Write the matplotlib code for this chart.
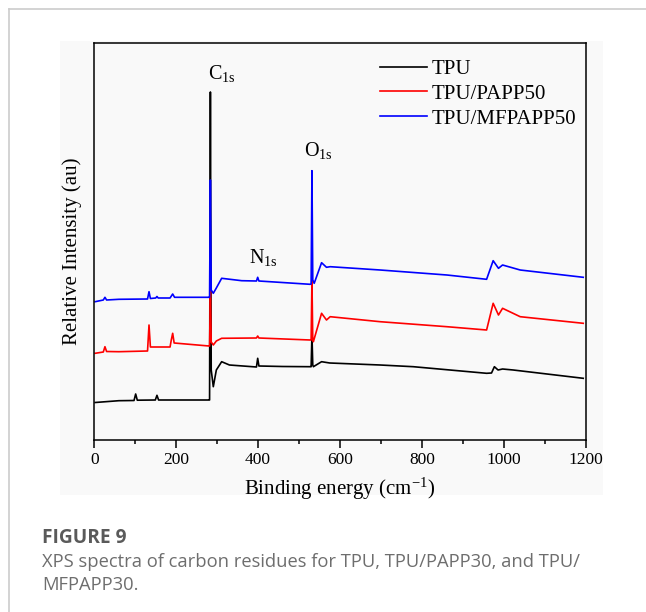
import matplotlib
matplotlib.use("Agg")
import matplotlib.pyplot as plt
from matplotlib.patches import Rectangle
from matplotlib.lines import Line2D
from matplotlib.ticker import MultipleLocator

plt.rcParams['font.family'] = ['Liberation Serif', 'DejaVu Serif']
plt.rcParams['mathtext.default'] = 'regular'

# XPS survey spectra (binding energy, relative intensity in a.u., stacked)
tpu_x = [2, 60, 97, 101, 105, 149, 153, 157, 280, 281.5, 283.5, 285.5, 290.6, 298, 311, 330,
         396, 399, 402, 460, 527, 529.5, 531.5, 533.5, 535, 555, 575, 698, 779, 958, 970, 977,
         986, 997, 1023, 1194]
tpu_y = [37.5, 39.3, 39.5, 46, 39.8, 40, 44.7, 40, 40, 40, 348, 70, 53.3, 70, 78.3, 75,
         73, 81.7, 74, 73.5, 73.3, 73.3, 105, 75, 73.3, 78.3, 77, 75, 73.3, 66.7, 67, 73.3,
         70, 71, 70, 61.7]

papp_x = [2, 22, 26, 30, 60, 130, 133.6, 137, 185, 188, 191.4, 195, 280, 281.5, 283.5, 285.5,
          290.6, 298, 311, 396, 399, 402, 527, 529.5, 531.5, 533.5, 535, 555, 567, 576, 698,
          861, 958, 974, 987, 997, 1040, 1194]
papp_y = [86.7, 88, 93.3, 88.5, 88.3, 89, 115, 93, 93, 100, 106.7, 97, 94, 94, 150, 98,
          95, 99, 101.7, 102, 104, 102, 100, 100, 160, 100, 98.3, 126.7, 120, 123.3, 118.3,
          113.3, 110, 136.7, 125, 131.7, 123.3, 116.7]

mf_x = [2, 22, 26, 30, 60, 130, 133.6, 137, 150, 153, 156, 185, 191.4, 196, 280, 281.5, 283.5,
        285.5, 290.6, 298, 311, 360, 396, 399, 402, 527, 529.5, 531.5, 533.5, 537, 555, 567,
        576, 698, 861, 958, 974, 987, 997, 1040, 1194]
mf_y = [138.3, 140, 142.7, 140, 140.7, 141, 148.3, 141.5, 142, 143.5, 142, 142, 146, 142.7,
        142.7, 142.7, 260, 150, 146.7, 152, 161.7, 159.3, 159, 162.7, 159, 155.7, 156, 269.3,
        160, 156.7, 177.3, 172.7, 173.3, 170, 165, 160.7, 179.3, 171.7, 175, 170, 162.7]

labels = ["TPU", "TPU/PAPP50", "TPU/MFPAPP50"]
colors = ["black", "red", "blue"]

# peak labels: text, x, y
peaks = [("C", 311, 366), ("N", 413, 182), ("O", 546, 289)]

fig = plt.figure(figsize=(6.46, 6.12), dpi=100, facecolor="white")

# light panel behind the chart and the page frame lines
panel = Rectangle((60 / 646, 1 - 495 / 612), 543 / 646, 454 / 612,
                  transform=fig.transFigure, facecolor="#f9f9f9", edgecolor="none",
                  zorder=-10)
fig.add_artist(panel)
fig.add_artist(Line2D([9 / 646, 1], [1 - 9 / 612, 1 - 9 / 612], transform=fig.transFigure,
                      color="#cccccc", lw=1.2))
fig.add_artist(Line2D([9 / 646, 9 / 646], [0, 1 - 9 / 612], transform=fig.transFigure,
                      color="#cccccc", lw=1.2))

ax = fig.add_axes([94.3 / 646, 1 - 440 / 612, 491.4 / 646, 397.3 / 612])
ax.set_facecolor("#f9f9f9")

for xs, ys, c, lab in zip([tpu_x, papp_x, mf_x], [tpu_y, papp_y, mf_y], colors, labels):
    ax.plot(xs, ys, color=c, lw=1.2, label=lab)

for el, px, py in peaks:
    ax.text(px, py, el + r"$_{1s}$", fontsize=14.5, ha="center", va="center")

ax.set_xlim(0, 1200)
ax.set_ylim(0, 397.3)
ax.xaxis.set_major_locator(MultipleLocator(200))
ax.xaxis.set_minor_locator(MultipleLocator(100))
ax.tick_params(axis="x", which="major", direction="out", length=6, width=1.1,
               labelsize=12.5, pad=3)
ax.tick_params(axis="x", which="minor", direction="out", length=3, width=1.1)
ax.set_yticks([])
for s in ax.spines.values():
    s.set_linewidth(1.1)

ax.set_xlabel("Binding energy (cm$^{-1}$)", fontsize=15, labelpad=5)
ax.set_ylabel("Relative Intensity (au)", fontsize=15)
ax.yaxis.set_label_coords(-0.026, 0.476)

ax.legend(loc="upper left", bbox_to_anchor=(0.581, 0.958), frameon=False, fontsize=15,
          handlelength=2.25, handletextpad=0.25, labelspacing=0.25, borderpad=0,
          borderaxespad=0)

cap_font = ["Open Sans", "DejaVu Sans"]
fig.text(42 / 646, 1 - 538 / 612, "FIGURE 9", fontsize=13.8, fontweight="bold",
         color="#5a5a5a", family=cap_font, va="center")
fig.text(42 / 646, 1 - 562 / 612, "XPS spectra of carbon residues for TPU, TPU/PAPP30, and TPU/",
         fontsize=13.2, color="#6e6e6e", family=cap_font, va="center")
fig.text(42 / 646, 1 - 585 / 612, "MFPAPP30.", fontsize=13.2,
         color="#6e6e6e", family=cap_font, va="center")

fig.savefig("out.png", dpi=100, facecolor="white")
